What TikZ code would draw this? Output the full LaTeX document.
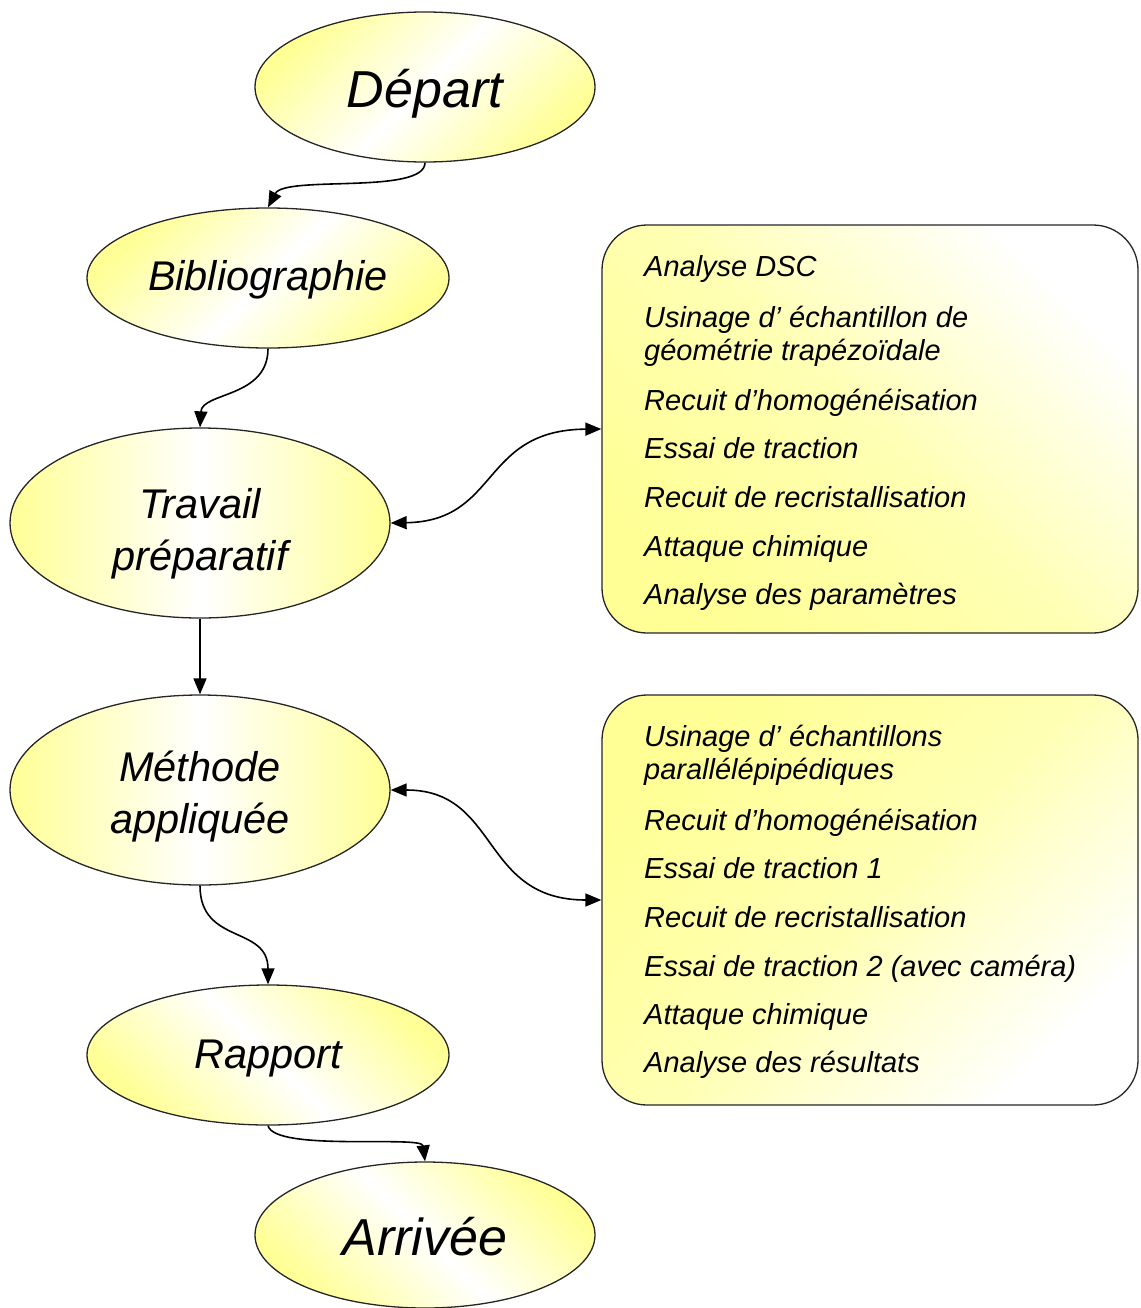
\documentclass[tikz,border=0pt]{standalone}
\usepackage{fontspec}
\setmainfont{Liberation Sans}
\usetikzlibrary{shapes.geometric,arrows.meta}
\definecolor{yl}{RGB}{255,255,150}
\tikzset{
  oval/.style={ellipse,draw=black!85,line width=1.3pt,inner sep=0pt,align=center,
    font=\itshape\fontsize{41.5}{52}\selectfont},
  ovalbig/.style={oval,font=\itshape\fontsize{52}{60}\selectfont},
  diagA/.style={left color=yl,right color=yl,middle color=white,shading angle=45},
  diagB/.style={left color=yl,right color=yl,middle color=white,shading angle=-45},
  horiz/.style={left color=yl,right color=yl,middle color=white},
  listbox/.style={rectangle,rounded corners=45pt,draw=black!85,line width=1.3pt,
    minimum width=536pt,inner sep=0pt},
  item/.style={anchor=base west,inner sep=0pt,font=\itshape\fontsize{29}{33}\selectfont},
  conn/.style={line width=1.6pt,-{Triangle[length=16pt,width=13pt]}},
  dconn/.style={line width=1.6pt,{Triangle[length=16pt,width=13pt]}-{Triangle[length=16pt,width=13pt]}}
}
\begin{document}
\begin{tikzpicture}[x=1pt,y=-1pt]
\useasboundingbox (0,0) rectangle (1140,1308);
% ovals
\node[ovalbig,diagA,minimum width=340pt,minimum height=150pt,text height=42pt,text depth=0pt] (dep) at (425,87) {Départ};
\node[oval,diagA,minimum width=362pt,minimum height=140pt,text height=25pt,text depth=0pt] (bib) at (268,278) {Bibliographie};
\node[oval,horiz,minimum width=380pt,minimum height=190pt] (trav) at (200,523) {\rule{0pt}{51pt}Travail\\préparatif};
\node[oval,horiz,minimum width=380pt,minimum height=190pt] (meth) at (200,790) {\rule{0pt}{44pt}Méthode\\appliquée};
\node[oval,diagB,minimum width=362pt,minimum height=140pt,text height=26pt,text depth=0pt] (rap) at (268,1055) {Rapport};
\node[ovalbig,diagB,minimum width=340pt,minimum height=146pt,text height=40pt,text depth=0pt] (arr) at (425,1235) {Arrivée};
% boxes
\node[listbox,top color=white,bottom color=yl,middle color=yl!72!white,shading angle=-45,minimum height=408pt] (box1) at (870,429) {};
\node[listbox,top color=yl,bottom color=white,middle color=yl!72!white,shading angle=45,minimum height=410pt] (box2) at (870,900) {};
% box 1 items
\node[item] (a1) at (644,276) {Analyse DSC};
\node[item] (a2) at (644,327) {Usinage d' échantillon de};
\node[item] (a2b) at (644,360) {géométrie trapézoïdale};
\node[item] (a3) at (644,410) {Recuit d'homogénéisation};
\node[item] (a4) at (644,458) {Essai de traction};
\node[item] (a5) at (644,507) {Recuit de recristallisation};
\node[item] (a6) at (644,556) {Attaque chimique};
\node[item] (a7) at (644,604) {Analyse des paramètres};
% box 2 items
\node[item] (b1) at (644,746) {Usinage d' échantillons};
\node[item] (b1b) at (644,779) {parallélépipédiques};
\node[item] (b2) at (644,830) {Recuit d'homogénéisation};
\node[item] (b3) at (644,878) {Essai de traction 1};
\node[item] (b4) at (644,927) {Recuit de recristallisation};
\node[item] (b5) at (644,976) {Essai de traction 2 (avec caméra)};
\node[item] (b6) at (644,1024) {Attaque chimique};
\node[item] (b7) at (644,1072) {Analyse des résultats};
% connectors
\draw[conn] (dep.south) .. controls (425,195) and (285,175) .. (bib.north);
\draw[conn] (bib.south) .. controls (268,398) and (202,392) .. (trav.north);
\draw[conn] (trav.south) -- (meth.north);
\draw[conn] (meth.south) .. controls (200,945) and (268,925) .. (rap.north);
\draw[conn] (rap.south) .. controls (275,1152) and (422,1135) .. (arr.north);
\draw[dconn] (trav.east) .. controls (500,521) and (480,430) .. (box1.west);
\draw[dconn] (meth.east) .. controls (500,790) and (480,900) .. (box2.west);
\end{tikzpicture}
\end{document}
